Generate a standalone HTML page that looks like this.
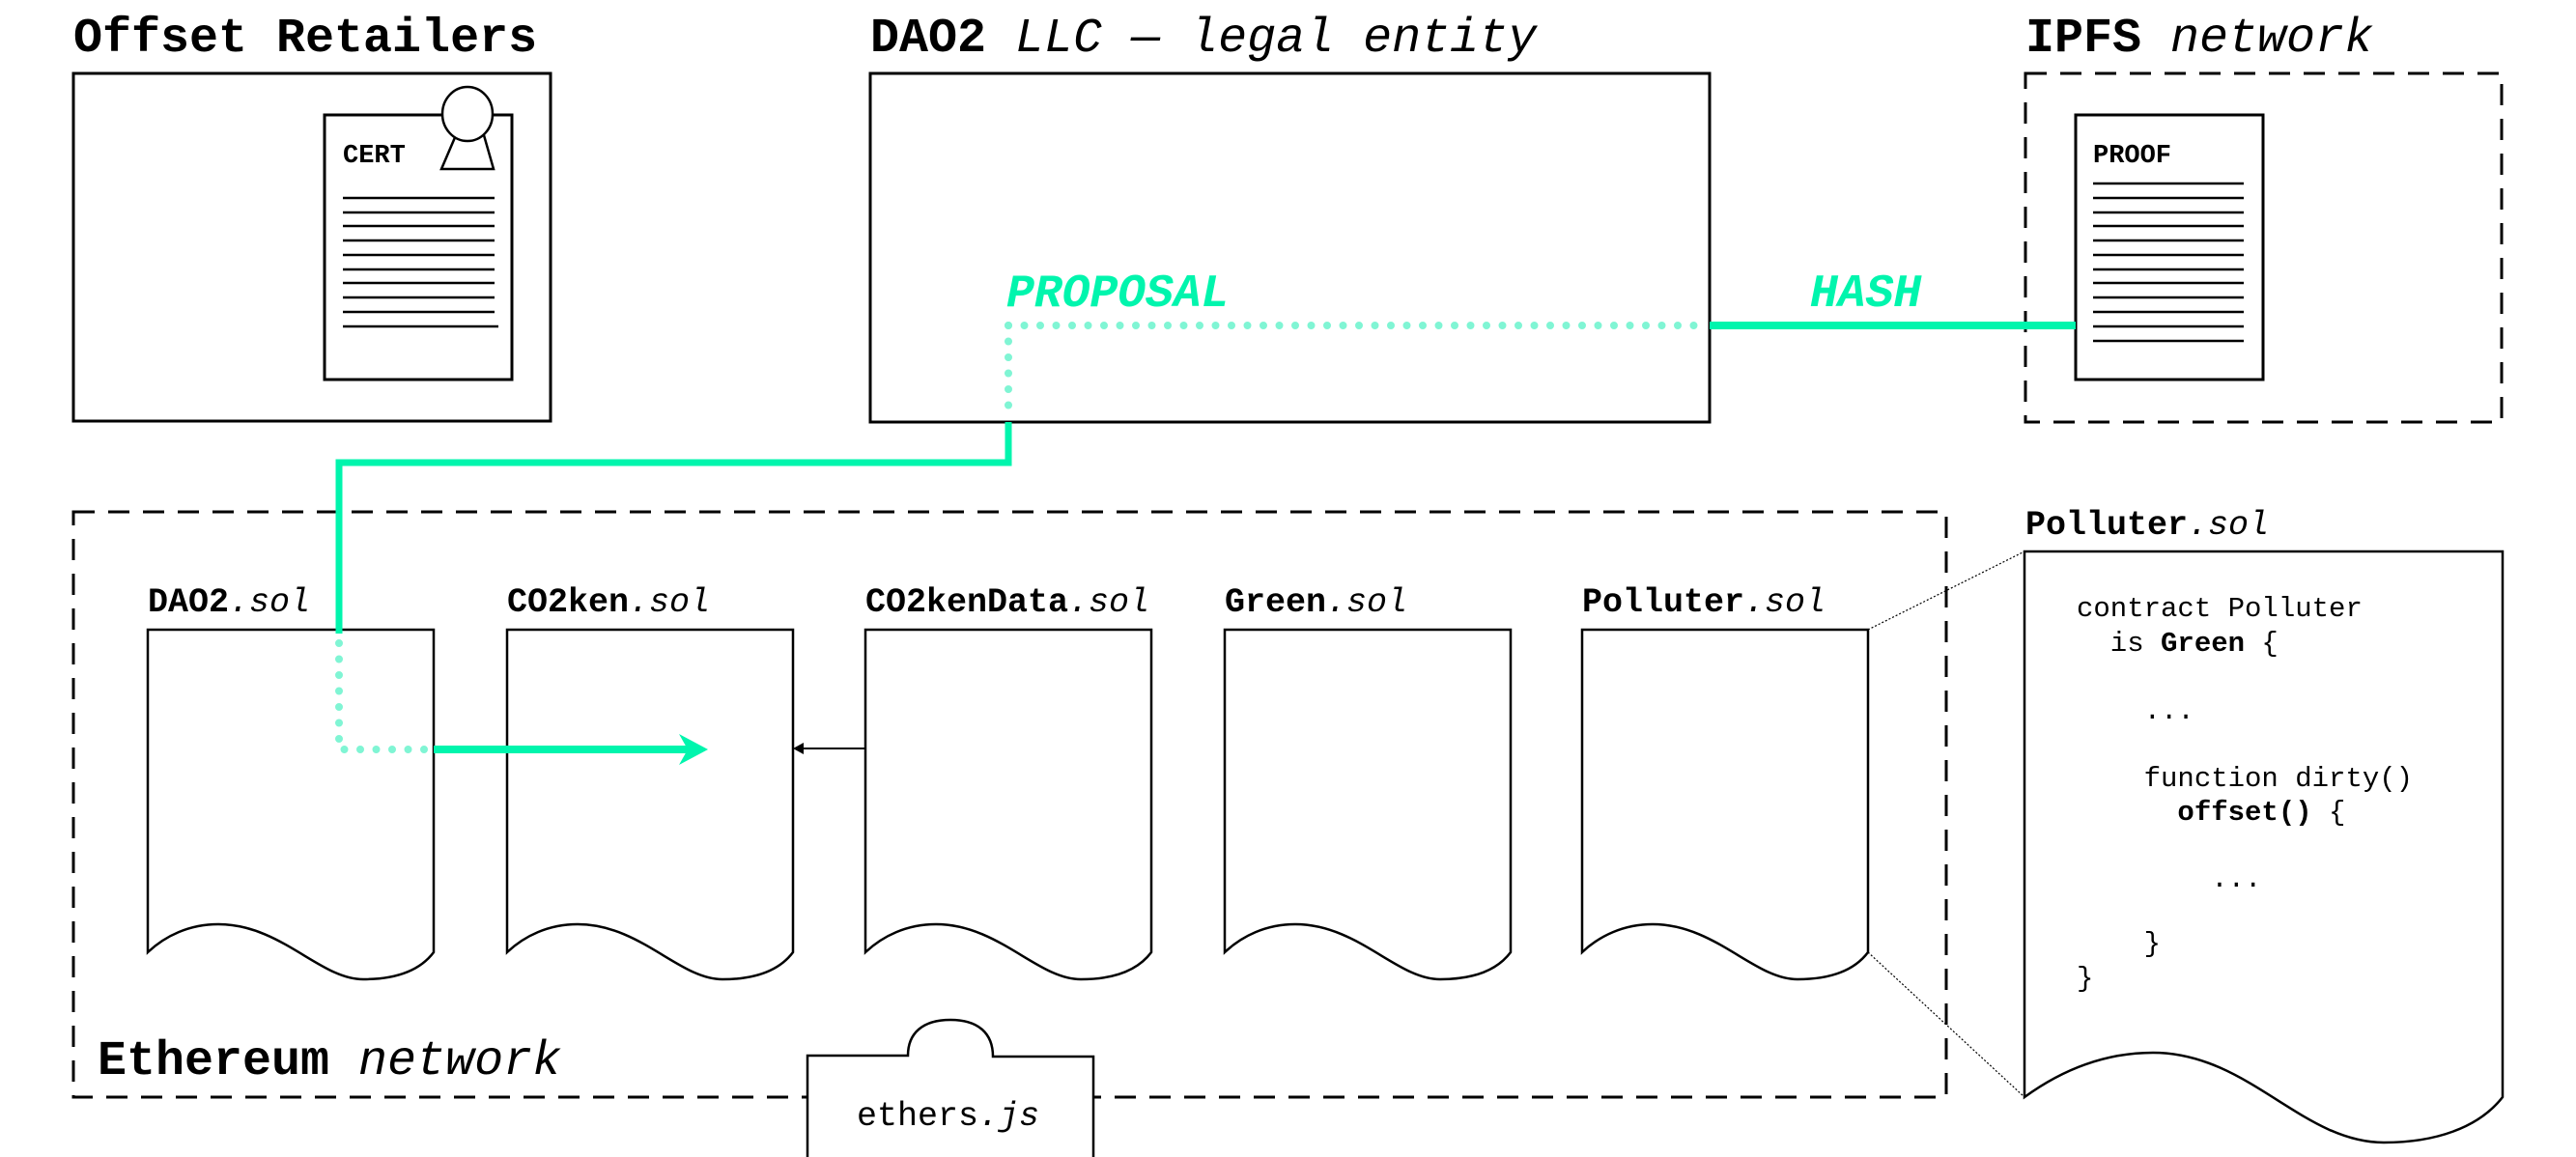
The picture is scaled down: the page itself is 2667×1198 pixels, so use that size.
<!DOCTYPE html>
<html><head><meta charset="utf-8"><style>
html,body{margin:0;padding:0;background:#fff;}
svg{display:block;}
text{font-family:"Liberation Mono","DejaVu Sans Mono",monospace;}
.b{font-weight:bold;}
.i{font-style:italic;font-weight:normal;}
</style></head><body>
<svg width="2667" height="1198" viewBox="0 0 2667 1198" xmlns="http://www.w3.org/2000/svg">
<text x="76" y="53" font-size="50" class="b">Offset Retailers</text>
<text x="901" y="53" font-size="50"><tspan class="b">DAO2</tspan><tspan class="i"> LLC — legal entity</tspan></text>
<text x="2097" y="53" font-size="50"><tspan class="b">IPFS</tspan><tspan class="i"> network</tspan></text>

<rect x="76" y="76" width="494" height="360" fill="none" stroke="#000" stroke-width="3"/>
<rect x="336" y="119" width="194" height="274" fill="#fff" stroke="#000" stroke-width="3"/>
<polygon points="472,140 501,140 511,175 457,175" fill="#fff" stroke="#000" stroke-width="2.5"/>
<ellipse cx="484" cy="118" rx="26" ry="28" fill="#fff" stroke="#000" stroke-width="2.5"/>
<text x="355" y="168" font-size="27" class="b">CERT</text>
<g stroke="#000" stroke-width="2.5">
<line x1="355" y1="205" x2="512" y2="205"/><line x1="355" y1="220" x2="512" y2="220"/>
<line x1="355" y1="234" x2="512" y2="234"/><line x1="355" y1="249" x2="512" y2="249"/>
<line x1="355" y1="264" x2="512" y2="264"/><line x1="355" y1="279" x2="512" y2="279"/>
<line x1="355" y1="293" x2="512" y2="293"/><line x1="355" y1="308" x2="512" y2="308"/>
<line x1="355" y1="323" x2="512" y2="323"/><line x1="355" y1="338" x2="516" y2="338"/>
</g>

<rect x="901" y="76" width="869" height="361" fill="none" stroke="#000" stroke-width="3"/>

<rect x="2097" y="76" width="493" height="361" fill="none" stroke="#000" stroke-width="3" stroke-dasharray="22 14"/>
<rect x="2149" y="119" width="194" height="274" fill="#fff" stroke="#000" stroke-width="3"/>
<text x="2167" y="168" font-size="27" class="b">PROOF</text>
<g stroke="#000" stroke-width="2.5">
<line x1="2167" y1="190" x2="2323" y2="190"/><line x1="2167" y1="205" x2="2323" y2="205"/>
<line x1="2167" y1="220" x2="2323" y2="220"/><line x1="2167" y1="234" x2="2323" y2="234"/>
<line x1="2167" y1="249" x2="2323" y2="249"/><line x1="2167" y1="264" x2="2323" y2="264"/>
<line x1="2167" y1="279" x2="2323" y2="279"/><line x1="2167" y1="293" x2="2323" y2="293"/>
<line x1="2167" y1="308" x2="2323" y2="308"/><line x1="2167" y1="323" x2="2323" y2="323"/>
<line x1="2167" y1="338" x2="2323" y2="338"/><line x1="2167" y1="353" x2="2323" y2="353"/>
</g>

<text x="1042" y="317" font-size="48" class="b" font-style="italic" fill="#00F5AD">PROPOSAL</text>
<text x="1874" y="317" font-size="48" class="b" font-style="italic" fill="#00F5AD">HASH</text>
<text x="558" y="758" font-size="48" class="b" font-style="italic" fill="#00F5AD">MINT</text>

<rect x="76" y="530" width="1939" height="606" fill="none" stroke="#000" stroke-width="3" stroke-dasharray="22 14"/>
<text x="101" y="1112" font-size="50"><tspan class="b">Ethereum</tspan><tspan class="i"> network</tspan></text>

<g font-size="35">
<text x="153" y="633"><tspan class="b">DAO2</tspan><tspan class="i">.sol</tspan></text>
<text x="525" y="633"><tspan class="b">CO2ken</tspan><tspan class="i">.sol</tspan></text>
<text x="896" y="633"><tspan class="b">CO2kenData</tspan><tspan class="i">.sol</tspan></text>
<text x="1268" y="633"><tspan class="b">Green</tspan><tspan class="i">.sol</tspan></text>
<text x="1638" y="633"><tspan class="b">Polluter</tspan><tspan class="i">.sol</tspan></text>
<text x="2097" y="553"><tspan class="b">Polluter</tspan><tspan class="i">.sol</tspan></text>
</g>

<g fill="#fff" stroke="#000" stroke-width="2.5">
<path d="M153,652 h296 v334 c-15,20 -40,28 -73,28 c-45,0 -85,-57 -150,-57 c-30,0 -55,12 -73,29 Z"/>
<path d="M525,652 h296 v334 c-15,20 -40,28 -73,28 c-45,0 -85,-57 -150,-57 c-30,0 -55,12 -73,29 Z"/>
<path d="M896,652 h296 v334 c-15,20 -40,28 -73,28 c-45,0 -85,-57 -150,-57 c-30,0 -55,12 -73,29 Z"/>
<path d="M1268,652 h296 v334 c-15,20 -40,28 -73,28 c-45,0 -85,-57 -150,-57 c-30,0 -55,12 -73,29 Z"/>
<path d="M1638,652 h296 v334 c-15,20 -40,28 -73,28 c-45,0 -85,-57 -150,-57 c-30,0 -55,12 -73,29 Z"/>
<path d="M2096,571 h495 v565 c-25,32 -70,47 -123,47 c-85,0 -140,-93 -239,-93 c-55,0 -100,22 -133,46 Z"/>
</g>
<line x1="1934" y1="652" x2="2096" y2="571" stroke="#000" stroke-width="1.2" stroke-dasharray="2 2"/>
<line x1="1934" y1="986" x2="2096" y2="1136" stroke="#000" stroke-width="1.2" stroke-dasharray="2 2"/>

<g font-size="29">
<text x="2150" y="638" xml:space="preserve">contract Polluter</text>
<text x="2150" y="674" xml:space="preserve">  is <tspan class="b">Green</tspan> {</text>
<text x="2150" y="744" xml:space="preserve">    ...</text>
<text x="2150" y="814" xml:space="preserve">    function dirty()</text>
<text x="2150" y="849" xml:space="preserve">      <tspan class="b">offset()</tspan> {</text>
<text x="2150" y="918" xml:space="preserve">        ...</text>
<text x="2150" y="985" xml:space="preserve">    }</text>
<text x="2150" y="1021" xml:space="preserve">}</text>
</g>

<path d="M836,1198 V1093 H940 C940,1070 955,1056 984,1056 C1013,1056 1028,1070 1028,1094 H1132 V1198" fill="#fff" stroke="#000" stroke-width="2.5"/>
<text x="887" y="1165" font-size="35"><tspan>ethers</tspan><tspan class="i">.js</tspan></text>

<line x1="896" y1="775" x2="830" y2="775" stroke="#000" stroke-width="2"/>
<polygon points="821,775 832,769 832,781" fill="#000"/>

<g stroke="#00F5AD" fill="none">
<path d="M1770,337 H2149" stroke-width="8"/>
<path d="M1044,437 V479 H351 V656" stroke-width="7"/>
<path d="M449,776 H715" stroke-width="8"/>
</g>
<polygon points="703,760 733,776 703,792 712,776" fill="#00F5AD"/>
<g stroke="#80F5D4" fill="none" stroke-width="8" stroke-linecap="round" stroke-dasharray="0 16.5">
<path d="M1044,337 H1766"/>
<path d="M1044,337 V432"/>
<path d="M351,666 V776 H445"/>
</g>
</svg>
</body></html>
